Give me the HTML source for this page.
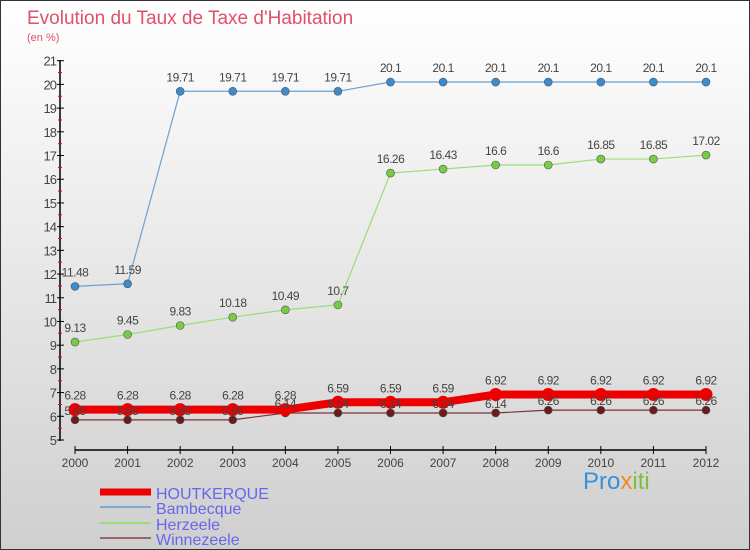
<!DOCTYPE html>
<html><head><meta charset="utf-8"><style>
body{margin:0}
#c{width:750px;height:550px;position:relative;font-family:"Liberation Sans","DejaVu Sans",sans-serif;overflow:hidden}
</style></head><body>
<div id="c">
<svg id="s" width="750" height="550" xmlns="http://www.w3.org/2000/svg">
<defs><linearGradient id="bg" x1="0" y1="0" x2="0" y2="1"><stop offset="0" stop-color="#ffffff"/><stop offset="1" stop-color="#cfcfcf"/></linearGradient></defs>
<rect x="0.5" y="0.5" width="749" height="549" fill="url(#bg)" stroke="#333"/>
<text x="27" y="24" font-size="19" fill="#e0506a">Evolution du Taux de Taxe d'Habitation</text>
<text x="27" y="41" font-size="11" fill="#e0506a">(en %)</text>
<g id="axes"></g><g id="series"></g><g id="labels"></g>
<g>
<line x1="100" y1="492" x2="151" y2="492" stroke="#ee0000" stroke-width="7"/>
<text x="156" y="499" font-size="16" fill="#6666ee">HOUTKERQUE</text>
<line x1="100" y1="507" x2="151" y2="507" stroke="#7aaad0" stroke-width="2"/>
<text x="156" y="514" font-size="16" fill="#6666ee">Bambecque</text>
<line x1="100" y1="523" x2="151" y2="523" stroke="#99dd77" stroke-width="2"/>
<text x="156" y="530" font-size="16" fill="#6666ee">Herzeele</text>
<line x1="100" y1="538" x2="151" y2="538" stroke="#996666" stroke-width="2"/>
<text x="156" y="545" font-size="16" fill="#6666ee">Winnezeele</text>
</g>
<text x="583" y="489" font-size="24"><tspan fill="#3a8fd8">Pro</tspan><tspan fill="#f08a1c">x</tspan><tspan fill="#7cc040">iti</tspan></text>
</svg>
</div>
<script>
const years=[2000,2001,2002,2003,2004,2005,2006,2007,2008,2009,2010,2011,2012];
const yTicks=[5,6,7,8,9,10,11,12,13,14,15,16,17,18,19,20,21];
const houtkerque=[6.28,6.28,6.28,6.28,6.28,6.59,6.59,6.59,6.92,6.92,6.92,6.92,6.92];
const bambecque=[11.48,11.59,19.71,19.71,19.71,19.71,20.1,20.1,20.1,20.1,20.1,20.1,20.1];
const herzeele=[9.13,9.45,9.83,10.18,10.49,10.7,16.26,16.43,16.6,16.6,16.85,16.85,17.02];
const winnezeele=[5.85,5.85,5.85,5.85,6.14,6.14,6.14,6.14,6.14,6.26,6.26,6.26,6.26];
const NS="http://www.w3.org/2000/svg";
const X=i=>75+i*(706-75)/12;
const Y=v=>440-(v-5)*(440-60.7)/16;
function mk(t,a,p){const e=document.createElementNS(NS,t);for(const k in a)e.setAttribute(k,a[k]);p.appendChild(e);return e;}
const ax=document.getElementById('axes'),se=document.getElementById('series'),lb=document.getElementById('labels');
let l=mk('line',{x1:60,y1:60,x2:60,y2:441,stroke:'#000','stroke-width':1.5},ax);

yTicks.forEach(v=>{mk('line',{x1:57,y1:Y(v),x2:64,y2:Y(v),stroke:'#000'},ax);
if(v<21)mk('line',{x1:58,y1:Y(v+0.5),x2:62,y2:Y(v+0.5),stroke:'#e00'},ax);
const t=mk('text',{x:56,y:Y(v)+5,'font-size':13,fill:'#444','text-anchor':'end','letter-spacing':-1},ax);t.textContent=v;
});
l=mk('line',{x1:X(0),y1:450,x2:X(12),y2:450,stroke:'#000','stroke-width':1.5},ax);

years.forEach((y,i)=>{mk('line',{x1:X(i),y1:446,x2:X(i),y2:454,stroke:'#000'},ax);
const t=mk('text',{x:X(i),y:467,'font-size':12,fill:'#444','text-anchor':'middle'},ax);t.textContent=y;
});
function series(name,data,col,w,r,mcol,lab){
const g=mk('g',{},se);
mk('polyline',{points:data.map((v,i)=>X(i)+','+Y(v)).join(' '),fill:'none',stroke:col,'stroke-width':w},g);
data.forEach((v,i)=>{const c=mk('circle',{cx:X(i),cy:Y(v),r:r,fill:mcol,stroke:'#555','stroke-width':r>5?0:0.6},g);

const t=mk('text',{x:X(i),y:Y(v)+lab,'font-size':12,fill:'#444','text-anchor':'middle','letter-spacing':-0.5},lb);t.textContent=v;
});}
series('winnezeele',winnezeele,'#7a3333',1.2,4,'#6a1c1c',-5);
series('houtkerque',houtkerque,'#ee0000',8,6.5,'#ee0000',-10);
series('herzeele',herzeele,'#99dd77',1.2,4,'#77cc44',-10);
series('bambecque',bambecque,'#6aa2d4',1.2,4,'#3b8ccc',-10);
</script>
</body></html>
